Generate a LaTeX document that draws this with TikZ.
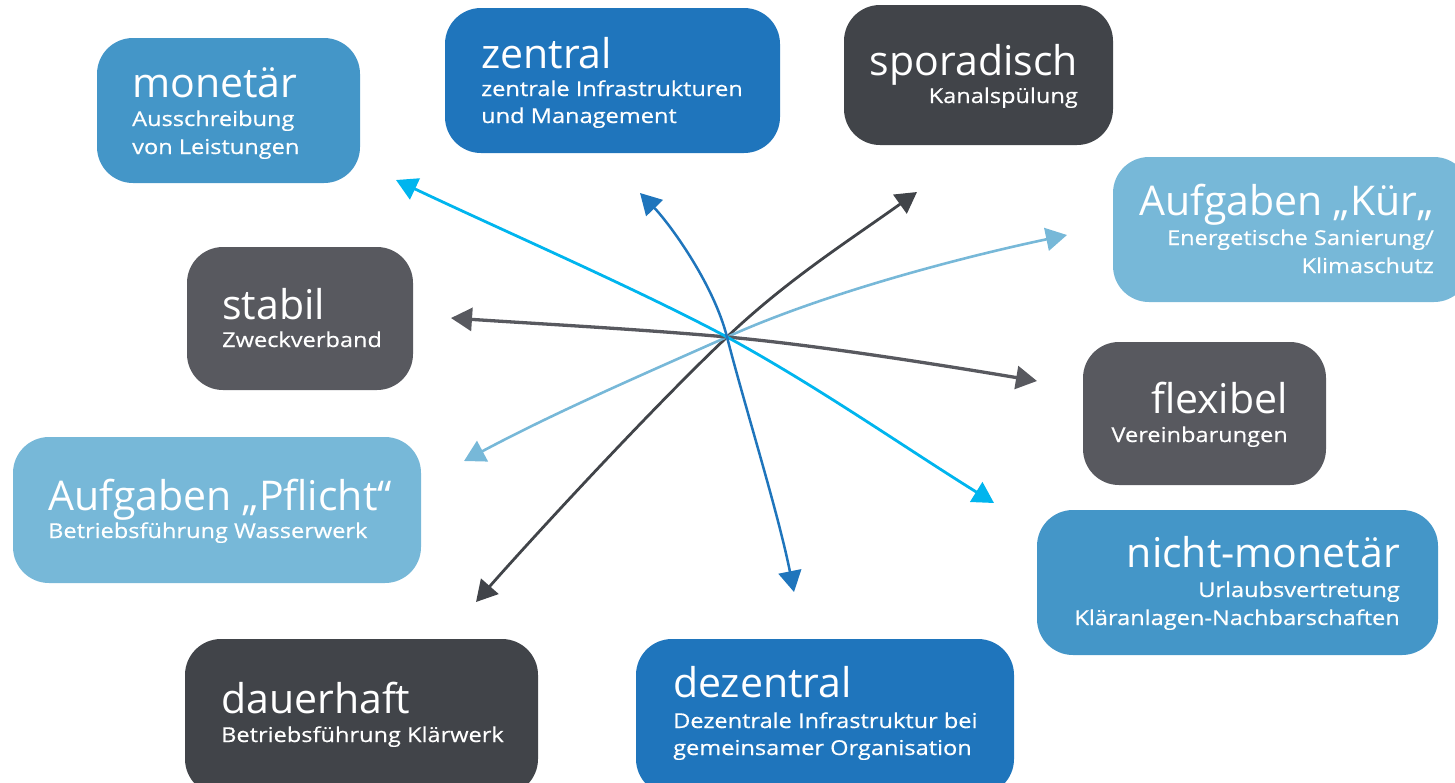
\documentclass[tikz,border=0pt]{standalone}
\usepackage{fontspec}
\setmainfont{Open Sans}
\usetikzlibrary{arrows.meta}
\definecolor{cdark}{HTML}{414449}
\definecolor{cgray}{HTML}{58595F}
\definecolor{cmid}{HTML}{4496C8}
\definecolor{cstrong}{HTML}{1F75BC}
\definecolor{clight}{HTML}{77B8D8}
\definecolor{ccyan}{HTML}{00B5EE}
\tikzset{
  box/.style={rectangle, rounded corners=36pt, inner sep=0pt, draw=none},
  ttl/.style={inner sep=0pt, text=white, font=\fontsize{41}{44}\selectfont},
  sub/.style={inner sep=0pt, text=white, font=\fontsize{20.5}{24}\selectfont\addfontfeatures{FakeBold=0.5,FakeStretch=1.15}},
  conn/.style={{Triangle[length=21pt,width=23pt]}-{Triangle[length=21pt,width=23pt]}, line width=3pt}
}
\begin{document}
\begin{tikzpicture}[x=1pt,y=-1pt]
\useasboundingbox (0,0) rectangle (1455,782);
\clip (0,0) rectangle (1455,782);
% boxes
\node[box, fill=cmid, minimum width=263pt, minimum height=145pt] (monetar) at (228.5,110.5) {};
\node[box, fill=cstrong, minimum width=335pt, minimum height=145pt] (zentral) at (612.5,80.5) {};
\node[box, fill=cdark, minimum width=269pt, minimum height=140pt] (sporadisch) at (978.5,75) {};
\node[box, fill=clight, minimum width=357pt, minimum height=145pt] (kur) at (1291.5,229.5) {};
\node[box, fill=cgray, minimum width=226pt, minimum height=143pt] (stabil) at (300,318.5) {};
\node[box, fill=cgray, minimum width=243pt, minimum height=143pt] (flexibel) at (1204.5,413.5) {};
\node[box, fill=clight, minimum width=408pt, minimum height=146pt] (pflicht) at (217,510) {};
\node[box, fill=cmid, minimum width=401pt, minimum height=145pt] (nichtmon) at (1237.5,582.5) {};
\node[box, fill=cdark, minimum width=353pt, minimum height=156pt] (dauerhaft) at (361.5,717) {};
\node[box, fill=cstrong, minimum width=378pt, minimum height=156pt] (dezentral) at (825,717) {};
% texts
\node[ttl, anchor=base west] (monetarT) at (132,97) {monetär};
\node[sub, anchor=base west] (monetarS1) at (132,126) {Ausschreibung};
\node[sub, anchor=base west] (monetarS2) at (132,154) {von Leistungen};
\node[ttl, anchor=base west] (zentralT) at (481,68) {zentral};
\node[sub, anchor=base west] (zentralS1) at (481,96) {zentrale Infrastrukturen};
\node[sub, anchor=base west] (zentralS2) at (481,123) {und Management};
\node[ttl, anchor=base east, text depth=0pt] (sporadischT) at (1078,75) {sporadisch};
\node[sub, anchor=base east] (sporadischS) at (1078,103) {Kanalspülung};
\node[ttl, anchor=base east] (kurT) at (1434,215) {Aufgaben „Kür„};
\node[sub, anchor=base east] (kurS1) at (1434,245) {Energetische Sanierung/};
\node[sub, anchor=base east] (kurS2) at (1434,273) {Klimaschutz};
\node[ttl, anchor=base west] (stabilT) at (222,319) {stabil};
\node[sub, anchor=base west] (stabilS) at (222,347) {Zweckverband};
\node[ttl, anchor=base east] (flexibelT) at (1288,413) {flexibel};
\node[sub, anchor=base east] (flexibelS) at (1288,442) {Vereinbarungen};
\node[ttl, anchor=base west] (pflichtT) at (48,510) {Aufgaben „Pflicht“};
\node[sub, anchor=base west] (pflichtS) at (48,538) {Betriebsführung Wasserwerk};
\node[ttl, anchor=base east] (nichtmonT) at (1400,567) {nicht-monetär};
\node[sub, anchor=base east] (nichtmonS1) at (1400,597) {Urlaubsvertretung};
\node[sub, anchor=base east] (nichtmonS2) at (1400,625) {Kläranlagen-Nachbarschaften};
\node[ttl, anchor=base west] (dauerhaftT) at (221,713) {dauerhaft};
\node[sub, anchor=base west] (dauerhaftS) at (221,742) {Betriebsführung Klärwerk};
\node[ttl, anchor=base west] (dezentralT) at (673,697) {dezentral};
\node[sub, anchor=base west] (dezentralS1) at (673,728) {Dezentrale Infrastruktur bei};
\node[sub, anchor=base west] (dezentralS2) at (673,755) {gemeinsamer Organisation};
% arrow ends
\coordinate (c) at (727,337);
\coordinate (cyanA) at (396,180);
\coordinate (cyanB) at (994,503);
\coordinate (blueA) at (640,193);
\coordinate (blueB) at (794,592);
\coordinate (darkA) at (917,192);
\coordinate (darkB) at (476,602);
\coordinate (lightA) at (1067,235);
\coordinate (lightB) at (464,461);
\coordinate (grayA) at (451,318);
\coordinate (grayB) at (1037,381);
% connectors
\draw[conn, cdark, line width=2.8pt] (darkB) .. controls (526,545) and (647,413) .. (c) .. controls (787,280) and (847,242) .. (darkA);
\draw[conn, clight, line width=2.6pt] (lightB) .. controls (554,413) and (637,377) .. (c) .. controls (827,292) and (967,256) .. (lightA);
\draw[conn, cgray, line width=3.3pt] (grayA) .. controls (541,324) and (637,329) .. (c) .. controls (817,345) and (947,366) .. (grayB);
\draw[conn, ccyan, line width=2.8pt] (cyanA) .. controls (506,232) and (637,289) .. (c) .. controls (817,386) and (904,447) .. (cyanB);
\draw[conn, cstrong, line width=2.5pt] (blueA) .. controls (668,222) and (713,282) .. (c) .. controls (745,407) and (778,512) .. (blueB);
\end{tikzpicture}
\end{document}
